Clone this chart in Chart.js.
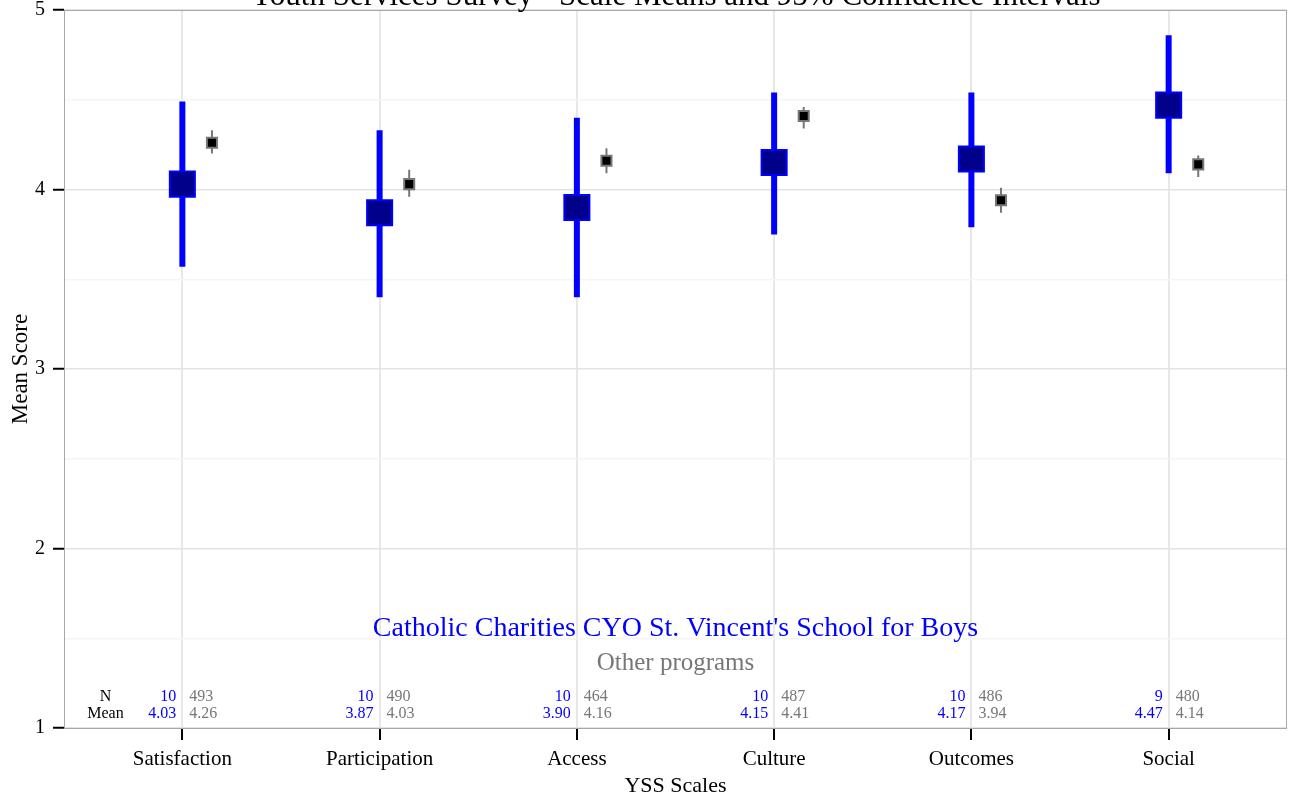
<!DOCTYPE html>
<html>
<head>
<meta charset="utf-8">
<script src="https://cdn.jsdelivr.net/npm/chart.js@4/dist/chart.umd.min.js"></script>
<style>
  body { margin: 0; background: #fff; }
  #wrap { width: 1291px; height: 804px; }
</style>
</head>
<body>
<div id="wrap"><canvas id="chart" width="1291" height="804"></canvas></div>
<script>
// YSS scale data
const categories = ['Satisfaction', 'Participation', 'Access', 'Culture', 'Outcomes', 'Social'];

const programName = "Catholic Charities CYO St. Vincent's School for Boys";
const programN = [10, 10, 10, 10, 10, 9];
const programMean = [4.03, 3.87, 3.90, 4.15, 4.17, 4.47];
const programLow = [3.57, 3.40, 3.40, 3.75, 3.79, 4.09];
const programHigh = [4.49, 4.33, 4.40, 4.54, 4.54, 4.86];

const otherName = 'Other programs';
const otherN = [493, 490, 464, 487, 486, 480];
const otherMean = [4.26, 4.03, 4.16, 4.41, 3.94, 4.14];
const otherLow = [4.20, 3.96, 4.09, 4.34, 3.87, 4.07];
const otherHigh = [4.33, 4.11, 4.23, 4.46, 4.01, 4.19];

const yTicks = [1, 2, 3, 4, 5];
const chartTitle = 'Youth Services Survey - Scale Means and 95% Confidence Intervals';

const FONT = "'Liberation Serif', 'DejaVu Serif', serif";
const BLUE = '#0000ff';
const NAVY = '#00008b';
const GREY = '#777777';
const OTHER_SHIFT = 0.15;

// error bars as line segments broken by null points
function ciSegments(low, high, shift) {
    let pts = [];
    low.forEach((lo, i) => {
        pts.push({ x: i + 1 + shift, y: lo });
        pts.push({ x: i + 1 + shift, y: high[i] });
        pts.push({ x: i + 1 + shift, y: null });
    });
    return pts;
}

function meanPoints(means, shift) {
    return means.map((m, i) => ({ x: i + 1 + shift, y: m }));
}

// title, panel border and the text table drawn on top of the chart
const decorations = {
    id: 'decorations',
    beforeDatasetsDraw(chart) {
        const ctx = chart.ctx;
        const a = chart.chartArea;
        ctx.save();
        ctx.strokeStyle = '#a8a8a8';
        ctx.lineWidth = 1;
        ctx.strokeRect(a.left + 0.5, a.top + 0.5, a.right - a.left - 1, a.bottom - a.top);
        ctx.restore();
    },
    afterDraw(chart) {
        const ctx = chart.ctx;
        const a = chart.chartArea;
        const xs = chart.scales.x;
        const ys = chart.scales.y;
        const cx = (a.left + a.right) / 2;
        ctx.save();

        ctx.fillStyle = '#000';
        ctx.font = '31px ' + FONT;
        ctx.textAlign = 'center';
        ctx.textBaseline = 'alphabetic';
        ctx.fillText(chartTitle, cx, 5);

        ctx.textBaseline = 'middle';
        ctx.fillStyle = BLUE;
        ctx.font = '28px ' + FONT;
        ctx.fillText(programName, cx, ys.getPixelForValue(1.555));
        ctx.fillStyle = GREY;
        ctx.font = '25px ' + FONT;
        ctx.fillText(otherName, cx, ys.getPixelForValue(1.36));

        const rowN = ys.getPixelForValue(1.175);
        const rowMean = ys.getPixelForValue(1.08);
        ctx.font = '16px ' + FONT;
        ctx.fillStyle = '#000';
        ctx.fillText('N', xs.getPixelForValue(0.61), rowN);
        ctx.fillText('Mean', xs.getPixelForValue(0.61), rowMean);

        categories.forEach((c, i) => {
            const x = xs.getPixelForValue(i + 1);
            ctx.textAlign = 'right';
            ctx.fillStyle = BLUE;
            ctx.fillText(String(programN[i]), x - 6, rowN);
            ctx.fillText(programMean[i].toFixed(2), x - 6, rowMean);
            ctx.textAlign = 'left';
            ctx.fillStyle = GREY;
            ctx.fillText(String(otherN[i]), x + 7, rowN);
            ctx.fillText(otherMean[i].toFixed(2), x + 7, rowMean);
        });
        ctx.restore();
    }
};

const ctx = document.getElementById('chart').getContext('2d');
const chart = new Chart(ctx, {
    type: 'scatter',
    data: {
        datasets: [{
            label: programName + ' mean',
            data: meanPoints(programMean, 0),
            pointStyle: 'rect',
            pointRadius: 17.7,
            backgroundColor: NAVY,
            borderColor: BLUE,
            borderWidth: 2,
            order: 0
        }, {
            label: otherName + ' mean',
            data: meanPoints(otherMean, OTHER_SHIFT),
            pointStyle: 'rect',
            pointRadius: 7.1,
            backgroundColor: '#000',
            borderColor: GREY,
            borderWidth: 2,
            order: 0
        }, {
            label: programName + ' CI',
            data: ciSegments(programLow, programHigh, 0),
            showLine: true,
            spanGaps: false,
            borderColor: BLUE,
            borderWidth: 6,
            borderCapStyle: 'butt',
            pointRadius: 0,
            order: 1
        }, {
            label: otherName + ' CI',
            data: ciSegments(otherLow, otherHigh, OTHER_SHIFT),
            showLine: true,
            spanGaps: false,
            borderColor: GREY,
            borderWidth: 2,
            borderCapStyle: 'butt',
            pointRadius: 0,
            order: 1
        }]
    },
    options: {
        responsive: false,
        animation: false,
        // big square markers would otherwise add auto padding round the panel
        layout: { autoPadding: false, padding: { top: 10, right: 4, left: 0, bottom: 0 } },
        plugins: {
            legend: { display: false },
            tooltip: { enabled: false },
            title: { display: false }
        },
        scales: {
            x: {
                type: 'linear',
                min: 0.4,
                max: 6.6,
                afterBuildTicks: (scale) => {
                    scale.ticks = categories.map((c, i) => ({ value: i + 1 }));
                },
                afterFit: (scale) => {
                    scale.height = 76;
                    scale.paddingLeft = 0;
                    scale.paddingRight = 0;
                },
                ticks: {
                    callback: (v) => categories[Math.round(v) - 1],
                    color: '#000',
                    font: { family: FONT, size: 21 },
                    padding: 7,
                    maxRotation: 0,
                    autoSkip: false
                },
                grid: {
                    color: '#e8e8e8',
                    lineWidth: 2,
                    drawTicks: true,
                    tickLength: 12,
                    tickColor: '#000',
                    tickWidth: 2
                },
                border: { display: false },
                title: {
                    display: true,
                    text: 'YSS Scales',
                    color: '#000',
                    font: { family: FONT, size: 22 },
                    padding: { top: 0, bottom: 5 }
                }
            },
            y: {
                min: 1,
                max: 5,
                afterFit: (scale) => {
                    scale.width = 64;
                    scale.paddingTop = 0;
                    scale.paddingBottom = 0;
                },
                ticks: {
                    stepSize: 0.5,
                    callback: (v) => yTicks.includes(v) ? String(v) : '',
                    color: '#000',
                    font: { family: FONT, size: 20 },
                    padding: 8
                },
                grid: {
                    color: (c) => yTicks.includes(c.tick.value) ? '#e3e3e3' : '#f5f5f5',
                    lineWidth: 1.5,
                    drawTicks: true,
                    tickLength: 11,
                    tickColor: (c) => yTicks.includes(c.tick.value) ? '#000' : 'rgba(0,0,0,0)',
                    tickWidth: 2
                },
                border: { display: false },
                title: {
                    display: true,
                    text: 'Mean Score',
                    color: '#000',
                    font: { family: FONT, size: 23 },
                    padding: { top: 7, bottom: 0 }
                }
            }
        }
    },
    plugins: [decorations]
});
</script>
</body>
</html>
